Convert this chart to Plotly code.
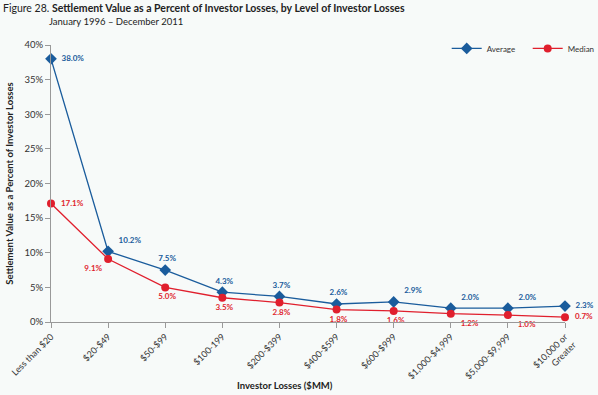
import plotly.graph_objects as go

categories = ["Less than $20", "$20-$49", "$50-$99", "$100-199", "$200-$399",
              "$400-$599", "$600-$999", "$1,000-$4,999", "$5,000-$9,999", "$10,000 or<br>Greater"]
average = [38.0, 10.2, 7.5, 4.3, 3.7, 2.6, 2.9, 2.0, 2.0, 2.3]
median = [17.1, 9.1, 5.0, 3.5, 2.8, 1.8, 1.6, 1.2, 1.0, 0.7]
y_ticks = [0, 5, 10, 15, 20, 25, 30, 35, 40]

BLUE = "#1a5c9c"
RED = "#e01f2d"
FONT = "Lato"

avg_pos = ["middle right", "top right", "top center", "top center", "top center",
           "top center", "top right", "top right", "top right", "middle right"]
med_pos = ["middle right", "bottom left", "bottom center", "bottom center", "bottom center",
           "bottom center", "bottom center", "bottom right", "bottom right", "middle right"]

x = list(range(len(categories)))

fig = go.Figure()
fig.add_trace(go.Scatter(
    x=x, y=average, name="Average", mode="lines+markers+text",
    line=dict(color=BLUE, width=1.3),
    marker=dict(symbol="diamond", size=9, color=BLUE),
    text=["  %.1f%%" % v for v in average], textposition=avg_pos,
    textfont=dict(color=BLUE, size=8, family=FONT, weight="bold"),
    cliponaxis=False,
))
fig.add_trace(go.Scatter(
    x=x, y=median, name="Median", mode="lines+markers+text",
    line=dict(color=RED, width=1.3),
    marker=dict(symbol="circle", size=8, color=RED),
    text=["  %.1f%%" % v for v in median], textposition=med_pos,
    textfont=dict(color=RED, size=8, family=FONT, weight="bold"),
    cliponaxis=False,
))

fig.update_layout(
    width=598, height=395,
    margin=dict(l=51, r=33, t=45, b=73, autoexpand=False),
    paper_bgcolor="#f7faf9", plot_bgcolor="#f7faf9",
    font=dict(family=FONT, size=9, color="#333"),
    showlegend=True,
    legend=dict(orientation="h", x=0.747, xanchor="left", xref="container",
                y=1.04, yanchor="top",
                font=dict(size=8, color="#333"), bgcolor="rgba(0,0,0,0)",
                entrywidth=36, traceorder="normal"),
    annotations=[
        dict(text="Figure 28. <b>Settlement Value as a Percent of Investor Losses, by Level of Investor Losses</b>",
             xref="paper", yref="paper", x=0, y=1, xanchor="left", yanchor="top",
             xshift=-50, yshift=45, showarrow=False, font=dict(size=10.5, color="#222")),
        dict(text="January 1996 \u2013 December 2011",
             xref="paper", yref="paper", x=0, y=1, xanchor="left", yanchor="top",
             xshift=-4, yshift=31, showarrow=False, font=dict(size=9.5, color="#222")),
        dict(text="<b>Investor Losses ($MM)</b>",
             xref="paper", yref="paper", x=0, y=0, xanchor="center", yanchor="middle",
             xshift=234, yshift=-63, showarrow=False, font=dict(size=9.5, color="#222")),
    ],
)
fig.update_xaxes(
    range=[0, 9], tickmode="array", tickvals=x, ticktext=categories, tickangle=-45,
    showgrid=False, zeroline=False, showline=True, linecolor="#999", linewidth=1,
    ticks="outside", ticklen=5, tickcolor="#999", tickfont=dict(size=9, color="#333"),
    automargin=False,
)
fig.update_yaxes(
    range=[0, 40], tickmode="array", tickvals=y_ticks, ticktext=["%d%%" % v for v in y_ticks],
    showgrid=False, zeroline=False, showline=True, linecolor="#999", linewidth=1,
    ticks="outside", ticklen=5, tickcolor="#999", tickfont=dict(size=9.5, color="#333"),
    automargin=False,
    title=dict(text="<b>Settlement Value as a Percent of Investor Losses</b>",
               font=dict(size=9.5, color="#222"), standoff=9),
)

fig.write_html("out.html", config={"displayModeBar": False})

# remove the default page margin so the figure sits at the window's top-left corner
with open("out.html", "r", encoding="utf-8") as f:
    html = f.read()
html = html.replace("<head>", "<head><style>html,body{margin:0;padding:0;overflow:hidden;}</style>", 1)
with open("out.html", "w", encoding="utf-8") as f:
    f.write(html)
